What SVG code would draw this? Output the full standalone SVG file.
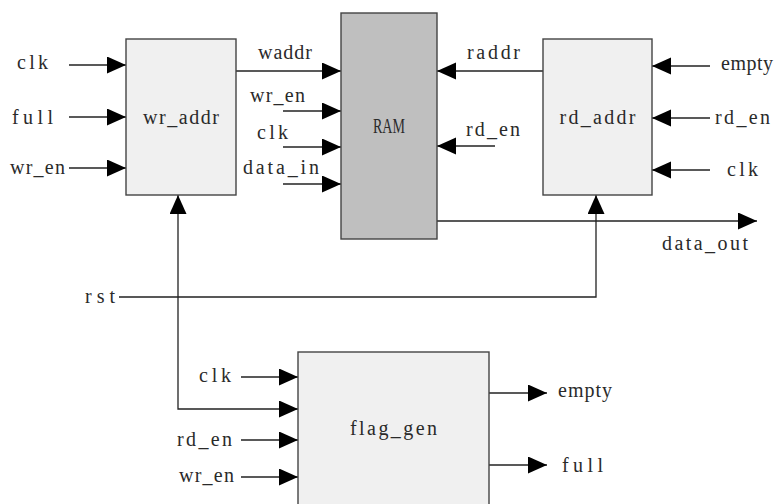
<svg xmlns="http://www.w3.org/2000/svg" width="777" height="504" viewBox="0 0 777 504">
<style>
.box{fill:#f0f0f0;stroke:#444;stroke-width:1.4}
.ram{fill:#bfbfbf;stroke:#444;stroke-width:1.4}
.w{fill:none;stroke:#222;stroke-width:1.3}
.a{marker-end:url(#ah)}
.t{font-family:"Liberation Serif",serif;font-size:20px;fill:#2a2a2a}
.c{text-anchor:middle}
</style>
<defs>
<marker id="ah" markerUnits="userSpaceOnUse" markerWidth="20" markerHeight="18" refX="19" refY="8.5" orient="auto-start-reverse" viewBox="0 0 20 18">
<path d="M0,0 L19,8.5 L0,17 Z" fill="#000"/>
</marker>
</defs>
<rect width="777" height="504" fill="#fff"/>
<g id="connectors">
<path class="w a" d="M69,65 H126"/>
<path class="w a" d="M69,117 H126"/>
<path class="w a" d="M69,168 H126"/>
<path class="w a" d="M236,71 H341"/>
<path class="w a" d="M283,111 H341"/>
<path class="w a" d="M283,147 H341"/>
<path class="w a" d="M283,184 H341"/>
<path class="w a" d="M543,71 H437"/>
<path class="w a" d="M495,146 H437"/>
<path class="w a" d="M710,66 H652"/>
<path class="w a" d="M710,118 H652"/>
<path class="w a" d="M710,170 H652"/>
<path class="w a" d="M437,221 H757"/>
<path class="w a" d="M119,297 H596 V195"/>
<path class="w a" d="M178,195 V409 H298" marker-start="url(#ah)"/>
<path class="w a" d="M241,377 H298"/>
<path class="w a" d="M241,440 H298"/>
<path class="w a" d="M241,477 H298"/>
<path class="w a" d="M489,393 H547"/>
<path class="w a" d="M489,465 H547"/>
<text class="t" x="17" y="69" textLength="31">clk</text>
<text class="t" x="12" y="124" textLength="41">full</text>
<text class="t" x="10" y="174" textLength="55">wr_en</text>
<text class="t" x="258" y="59" textLength="54">waddr</text>
<text class="t" x="250" y="102" textLength="55">wr_en</text>
<text class="t" x="257" y="139" textLength="31">clk</text>
<text class="t" x="243" y="174" textLength="76">data_in</text>
<text class="t" x="467" y="59" textLength="53">raddr</text>
<text class="t" x="466" y="136" textLength="54">rd_en</text>
<text class="t" x="721" y="70" textLength="52">empty</text>
<text class="t" x="715" y="124" textLength="55">rd_en</text>
<text class="t" x="727" y="176" textLength="31">clk</text>
<text class="t" x="662" y="250" textLength="86">data_out</text>
<text class="t" x="85" y="303" textLength="30">rst</text>
<text class="t" x="199" y="382" textLength="32">clk</text>
<text class="t" x="177" y="446" textLength="55">rd_en</text>
<text class="t" x="179" y="482" textLength="55">wr_en</text>
<text class="t" x="558" y="397" textLength="54">empty</text>
<text class="t" x="562" y="472" textLength="41">full</text>
</g>
<g id="wr_addr">
<rect class="box" x="126" y="39" width="110" height="156"/>
<text class="t c" x="181" y="124" textLength="76">wr_addr</text>
</g>
<g id="RAM">
<rect class="ram" x="341" y="13" width="96" height="226"/>
<text x="389" y="133" text-anchor="middle" font-family="Liberation Serif, serif" font-size="21" fill="#2a2a2a" textLength="32" lengthAdjust="spacingAndGlyphs">RAM</text>
</g>
<g id="rd_addr">
<rect class="box" x="543" y="39" width="109" height="156"/>
<text class="t c" x="597.5" y="124" textLength="76">rd_addr</text>
</g>
<g id="flag_gen">
<rect class="box" x="298" y="352" width="191" height="160"/>
<text class="t c" x="393.5" y="435" textLength="87">flag_gen</text>
</g>
</svg>
